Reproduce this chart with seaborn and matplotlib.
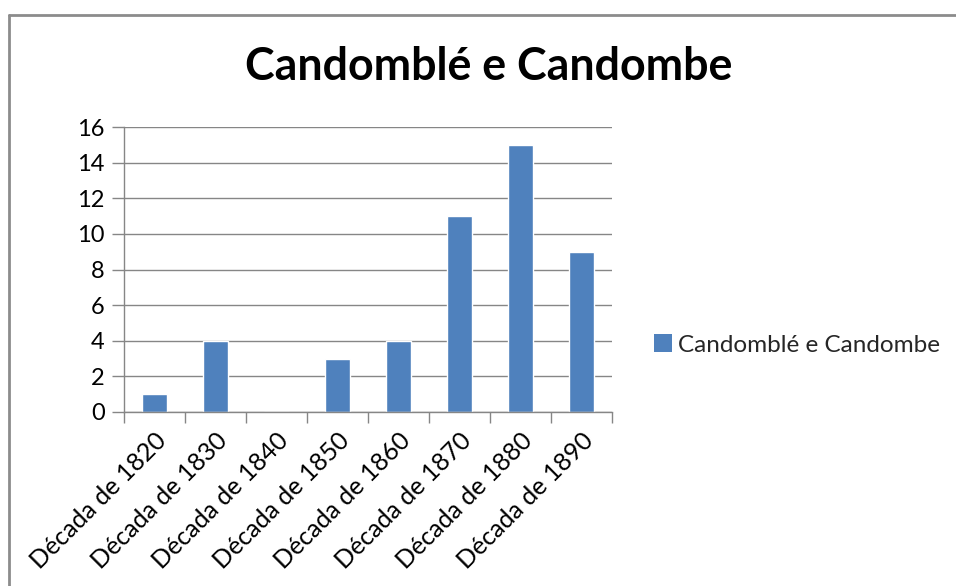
import matplotlib
matplotlib.use("Agg")
import matplotlib.pyplot as plt
import seaborn as sns
import pandas as pd
from matplotlib.patches import Rectangle

# Data
decades = ["Década de 1820", "Década de 1830", "Década de 1840", "Década de 1850",
           "Década de 1860", "Década de 1870", "Década de 1880", "Década de 1890"]
counts = [1, 4, 0, 3, 4, 11, 15, 9]
series_name = "Candomblé e Candombe"
title = "Candomblé e Candombe"

sns.set_theme(style="white")
plt.rcParams["font.family"] = ["Lato", "DejaVu Sans"]

df = pd.DataFrame({"decade": decades, "count": counts, "series": series_name})

fig = plt.figure(figsize=(9.56, 5.86), dpi=100)
fig.patch.set_facecolor("white")
ax = fig.add_axes([124 / 956, 1 - 412 / 586, (612 - 124) / 956, (412 - 127) / 586])

bar_color = "#4F81BD"
sns.barplot(data=df, x="decade", y="count", hue="series", palette=[bar_color],
            width=0.4, ax=ax, legend=False, saturation=1)

grid_color = "#868686"
ax.set_ylim(0, 16)
ax.set_yticks(range(0, 17, 2))
ax.set_xlim(-0.5, len(decades) - 0.5)
ax.yaxis.grid(True, color=grid_color, linewidth=1)
ax.xaxis.grid(False)
ax.set_axisbelow(True)
for side in ["top", "right"]:
    ax.spines[side].set_visible(False)
for side in ["left", "bottom"]:
    ax.spines[side].set_color(grid_color)
    ax.spines[side].set_linewidth(1)

ax.set_xlabel("")
ax.set_ylabel("")
ax.tick_params(axis="y", which="major", length=9, width=1, color=grid_color,
               labelsize=17, pad=5, left=True)
ax.set_xticks(range(len(decades)))
ax.set_xticklabels(decades, rotation=45, ha="right", rotation_mode="anchor")
ax.tick_params(axis="x", which="major", length=0, labelsize=18, pad=12)
ax.set_xticks([i - 0.5 for i in range(len(decades) + 1)], minor=True)
ax.tick_params(axis="x", which="minor", length=8, width=1, color=grid_color, bottom=True)
for lab in ax.get_xticklabels() + ax.get_yticklabels():
    lab.set_color("black")

fig.text(489 / 956, 1 - 67 / 586, title, ha="center", va="center",
         fontsize=32.2, fontweight="bold", color="black")

# Legend
handle = Rectangle((0, 0), 1, 1, facecolor=bar_color, edgecolor="none")
fig.legend([handle], [series_name], loc="center left",
           bbox_to_anchor=(654 / 956, 1 - 345 / 586), frameon=False,
           fontsize=17.5, handlelength=0.75, handleheight=0.75, handletextpad=0.25,
           borderpad=0, borderaxespad=0)

# Chart area border
fig.add_artist(plt.Line2D([9 / 956, 9 / 956], [0, 1 - 15 / 586], color="#8c8c8c",
                          linewidth=2, transform=fig.transFigure))
fig.add_artist(plt.Line2D([9 / 956, 1], [1 - 15 / 586, 1 - 15 / 586], color="#8c8c8c",
                          linewidth=2, transform=fig.transFigure))

fig.savefig("out.png", dpi=100)
